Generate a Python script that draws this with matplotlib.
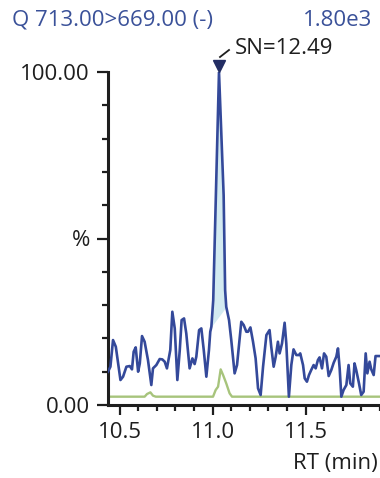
import numpy as np
import matplotlib
matplotlib.use("Agg")
import matplotlib.pyplot as plt
from matplotlib.ticker import MultipleLocator, FixedLocator, FixedFormatter

plt.rcParams['font.family'] = ['Open Sans', 'DejaVu Sans']

title_left = "Q 713.00>669.00 (-)"
title_right = "1.80e3"
sn_label = "SN=12.49"

# transition trace (retention time in min, relative intensity in %)
rt = [10.437, 10.450, 10.464, 10.479, 10.504, 10.518, 10.536, 10.554, 10.566, 10.575,
      10.586, 10.599, 10.608, 10.620, 10.634, 10.652, 10.670, 10.679, 10.697, 10.715,
      10.729, 10.742, 10.754, 10.772, 10.783, 10.796, 10.810, 10.823, 10.833, 10.846,
      10.858, 10.876, 10.891, 10.903, 10.912, 10.927, 10.939, 10.952, 10.966, 10.980,
      10.987, 10.993, 11.003, 11.034, 11.059, 11.067, 11.073, 11.088, 11.100, 11.118,
      11.131, 11.154, 11.167, 11.181, 11.190, 11.203, 11.217, 11.231, 11.244, 11.258,
      11.271, 11.289, 11.306, 11.315, 11.328, 11.339, 11.351, 11.360, 11.373, 11.387,
      11.396, 11.410, 11.423, 11.435, 11.450, 11.464, 11.471, 11.486, 11.495, 11.507,
      11.518, 11.530, 11.543, 11.554, 11.566, 11.575, 11.588, 11.599, 11.611, 11.624,
      11.638, 11.651, 11.665, 11.674, 11.683, 11.692, 11.704, 11.719, 11.731, 11.740,
      11.754, 11.763, 11.772, 11.787, 11.799, 11.812, 11.823, 11.832, 11.844, 11.853,
      11.866, 11.876, 11.894, 11.910]
inten = [10.0, 11.5, 19.5, 17.5, 7.5, 8.5, 11.5, 11.7, 10.7, 16.0,
         17.3, 10.0, 12.5, 20.7, 19.0, 13.5, 6.0, 11.0, 12.0, 13.8,
         13.7, 13.0, 11.0, 16.5, 28.0, 23.0, 7.5, 16.5, 25.5, 26.0,
         21.5, 11.0, 14.0, 12.3, 14.5, 22.5, 23.0, 16.5, 8.5, 16.5,
         22.0, 23.5, 31.5, 100.0, 63.0, 34.5, 29.5, 25.5, 19.5, 9.5,
         12.0, 25.0, 24.0, 22.0, 22.0, 23.3, 19.0, 14.0, 5.0, 3.0,
         11.5, 21.0, 22.5, 17.5, 11.5, 14.5, 19.0, 15.5, 18.5, 24.7,
         18.5, 2.5, 12.0, 16.7, 15.0, 15.0, 15.5, 12.0, 8.0, 7.0,
         9.0, 10.5, 12.0, 11.0, 13.5, 14.3, 11.0, 15.5, 14.5, 8.7,
         10.5, 12.7, 14.5, 17.0, 11.0, 2.5, 4.5, 6.0, 12.0, 6.5,
         5.5, 12.5, 10.5, 6.5, 3.0, 4.0, 15.5, 9.5, 13.0, 10.7,
         9.0, 14.7, 14.7, 14.7]

# second trace (green)
rt2 = [10.40, 10.634, 10.647, 10.665, 10.679, 10.694, 11.002, 11.016, 11.029,
       11.043, 11.056, 11.073, 11.091, 11.104, 11.95]
inten2 = [2.5, 2.5, 3.3, 3.8, 2.8, 2.5, 2.5, 4.5, 5.5,
          10.7, 9.0, 6.5, 3.5, 2.5, 2.5]

# integrated peak
peak_start, peak_end = 10.993, 11.073
apex_rt, apex_int = 11.034, 100.0

blue = '#34499a'
title_col = '#3a5199'
dark = '#1e1e1e'

fig = plt.figure(figsize=(3.8, 4.78), dpi=100)
ax = fig.add_axes([108 / 380, 1 - 405 / 478, 1 - 108 / 380, 333 / 478])

# pixels per unit on each axis, used to place the label next to the apex
px_x = 272 / (11.9 - 10.437)
px_y = 333 / 100

rt_a = np.array(rt)
int_a = np.array(inten)
m = (rt_a >= peak_start) & (rt_a <= peak_end)
i0, i1 = inten[rt.index(peak_start)], inten[rt.index(peak_end)]
base = i0 + (rt_a[m] - peak_start) / (peak_end - peak_start) * (i1 - i0)
ax.fill_between(rt_a[m], base, int_a[m], color='#d3eaf1', lw=0, zorder=1)

ax.plot(rt2, inten2, color='#a7c47c', lw=1.7, zorder=2)
ax.plot(rt, inten, color=blue, lw=1.9, zorder=3)

# apex marker and signal/noise label
ax.plot([apex_rt], [apex_int + 6 / px_y], marker='v', ms=8.5, color='#222d63',
        clip_on=False, zorder=4)
ax.plot([apex_rt + 1 / px_x, apex_rt + 10 / px_x],
        [apex_int + 15 / px_y, apex_int + 22 / px_y],
        color=dark, lw=1.3, clip_on=False)
ax.text(apex_rt + 15.5 / px_x, apex_int + 24 / px_y, sn_label, fontsize=16,
        color=dark, ha='left', va='center', clip_on=False)

ax.set_xlim(10.437, 11.9)
ax.set_ylim(0, 100)

for s in ['top', 'right']:
    ax.spines[s].set_visible(False)
for s in ['left', 'bottom']:
    ax.spines[s].set_linewidth(2.2)
    ax.spines[s].set_color(dark)

ax.xaxis.set_major_locator(FixedLocator([10.5, 11.0, 11.5]))
ax.xaxis.set_major_formatter(FixedFormatter(['10.5', '11.0', '11.5']))
ax.xaxis.set_minor_locator(MultipleLocator(0.1))
ax.yaxis.set_major_locator(FixedLocator([0, 50, 100]))
ax.yaxis.set_major_formatter(FixedFormatter(['0.00', '%', '100.00']))
ax.yaxis.set_minor_locator(MultipleLocator(10))

ax.tick_params(axis='both', which='both', direction='out', color=dark,
               width=1.6, labelsize=16, labelcolor=dark)
ax.tick_params(axis='y', which='major', length=8, pad=5)
ax.tick_params(axis='y', which='minor', length=4.5)
ax.tick_params(axis='x', which='major', length=7, pad=5)
ax.tick_params(axis='x', which='minor', length=4)

fig.text(12 / 380, 1 - 20 / 478, title_left, fontsize=16, color=title_col,
         ha='left', va='center')
fig.text(372 / 380, 1 - 20 / 478, title_right, fontsize=16, color=title_col,
         ha='right', va='center')
fig.text(378 / 380, 1 - 463 / 478, "RT (min)", fontsize=16, color=dark,
         ha='right', va='center')

fig.savefig('out.png', dpi=100)
